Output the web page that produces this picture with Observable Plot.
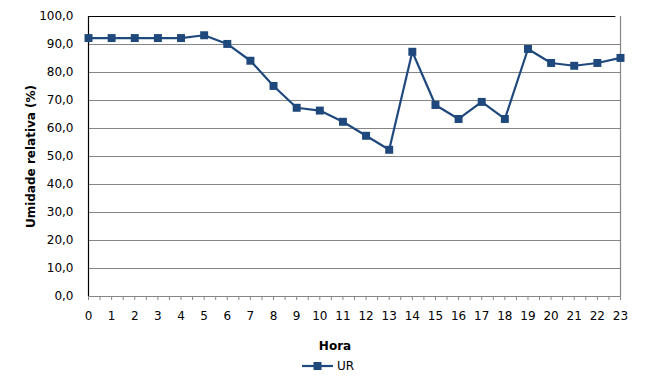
<!DOCTYPE html>
<html>
<head>
<meta charset="utf-8">
<script src="https://cdn.jsdelivr.net/npm/d3@7"></script>
<script src="https://cdn.jsdelivr.net/npm/@observablehq/plot@0.6"></script>
<style>
  html, body { margin: 0; padding: 0; background: #fff; }
  body { width: 655px; height: 388px; font-family: "DejaVu Sans", Verdana, sans-serif; }
  #chart svg { display: block; }
  #xlabel { position: absolute; left: 0; top: 339px; width: 655px; text-align: center; font-weight: bold; font-size: 12px; padding-left: 15px; box-sizing: border-box; }
  #legend { position: absolute; left: 302px; top: 358px; display: flex; align-items: center; font-size: 12px; }
  #legend span { margin-left: 4px; }
</style>
</head>
<body>
<div id="chart"></div>
<div id="xlabel">Hora</div>
<div id="legend"><svg width="31" height="16"></svg><span>UR</span></div>
<script>
const hours = [0,1,2,3,4,5,6,7,8,9,10,11,12,13,14,15,16,17,18,19,20,21,22,23];
const ur = [92.3,92.3,92.3,92.3,92.3,93.3,90.2,84.2,75.2,67.4,66.4,62.4,57.4,52.4,87.4,68.4,63.4,69.5,63.4,88.4,83.4,82.4,83.4,85.2];
const yTicks = [0,10,20,30,40,50,60,70,80,90,100];
const seriesName = "UR";
const yTitle = "Umidade relativa (%)";

const data = hours.map((h, i) => ({hora: h, ur: ur[i]}));
const color = "#1F497D";
const gridColor = "#868686";

const chart = Plot.plot({
  width: 655,
  height: 330,
  marginLeft: 88,
  marginRight: 35,
  marginTop: 16,
  marginBottom: 34,
  style: {fontFamily: "DejaVu Sans, Verdana, sans-serif", fontSize: "12px", color: "#000", background: "#fff"},
  x: {domain: [0, 23]},
  y: {domain: [0, 100]},
  marks: [
    Plot.ruleY(yTicks.filter(d => d > 0 && d < 100), {stroke: gridColor, strokeWidth: 1}),
    Plot.ruleY([100], {stroke: "#000", strokeWidth: 1.2, x1: 0, x2: 22.8}),
    Plot.ruleX([23], {stroke: gridColor, strokeWidth: 1.2}),
    Plot.ruleY([0], {stroke: gridColor, strokeWidth: 1.2}),
    Plot.ruleX([0], {stroke: "#000", strokeWidth: 1.2}),
    Plot.axisX({
      ticks: d3.range(0, 23.01, 0.5),
      tickFormat: d => Number.isInteger(d) ? String(d) : "",
      tickSize: 4,
      tickPadding: 11,
      stroke: gridColor,
      label: null,
      fontSize: 12
    }),
    Plot.axisY({
      ticks: yTicks,
      tickFormat: d => d.toFixed(1).replace(".", ","),
      tickSize: 0,
      tickPadding: 15,
      label: yTitle,
      labelAnchor: "center",
      labelArrow: "none",
      labelOffset: 62,
      fontSize: 12
    }),
    Plot.line(data, {x: "hora", y: "ur", stroke: color, strokeWidth: 2.2}),
    Plot.dot(data, {x: "hora", y: "ur", symbol: "square", r: 4.5, fill: color, stroke: "none"})
  ]
});
document.getElementById("chart").appendChild(chart);
chart.querySelectorAll("text").forEach(t => {
  if (t.textContent === yTitle) { t.setAttribute("font-weight", "bold"); }
});

// legend swatch (line + square marker)
const lg = d3.select("#legend svg");
lg.append("line").attr("x1", 0).attr("x2", 31).attr("y1", 8).attr("y2", 8).attr("stroke", color).attr("stroke-width", 2.2);
lg.append("rect").attr("x", 11.5).attr("y", 4).attr("width", 8).attr("height", 8).attr("fill", color);
document.querySelector("#legend span").textContent = seriesName;
</script>
</body>
</html>
